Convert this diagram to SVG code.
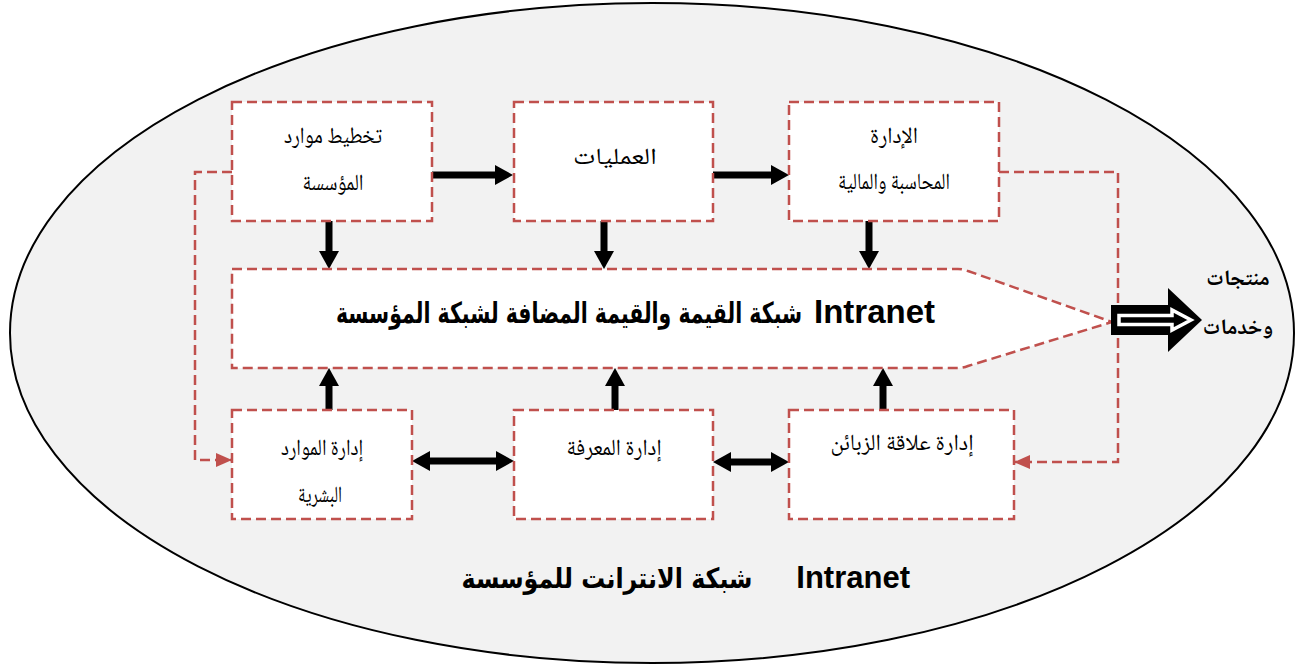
<svg xmlns="http://www.w3.org/2000/svg" width="1297" height="666" viewBox="0 0 1297 666">
  <defs>
    <style>
      .box { fill: #ffffff; stroke: #c0504d; stroke-width: 2.5; stroke-dasharray: 10 5; }
      .link { fill: none; stroke: #c0504d; stroke-width: 2.5; stroke-dasharray: 10 5; }
      .flow { fill: none; stroke: #000000; stroke-width: 7; }
      .lbl { font-family: "Noto Naskh Arabic", "Amiri", "Scheherazade New", "DejaVu Sans", serif; font-size: 23px; fill: #000000; text-anchor: middle; direction: rtl; }
      .title-ar { font-family: "DejaVu Sans", "Noto Sans", sans-serif; font-weight: bold; fill: #000000; direction: rtl; text-anchor: middle; }
      .title-en { font-family: "Liberation Sans", Arial, sans-serif; font-weight: bold; fill: #000000; }
      .out { font-family: "Noto Naskh Arabic", "Amiri", "DejaVu Sans", serif; font-weight: bold; font-size: 22px; fill: #000000; text-anchor: middle; direction: rtl; }
    </style>
    <marker id="head" markerUnits="userSpaceOnUse" markerWidth="18" markerHeight="20" refX="8" refY="10" orient="auto-start-reverse">
      <path d="M0,0 L18,10 L0,20 z" fill="#000000"/>
    </marker>
    <marker id="redhead" markerUnits="userSpaceOnUse" markerWidth="16" markerHeight="14" refX="16" refY="7" orient="auto">
      <path d="M0,0 L16,7 L0,14 z" fill="#c0504d"/>
    </marker>
  </defs>

  <!-- enterprise intranet boundary -->
  <ellipse cx="652" cy="333" rx="642" ry="330" fill="#f2f2f2" stroke="#000000" stroke-width="2"/>

  <!-- connectors -->
  <g id="connectors">
    <!-- feedback loops (dashed) -->
    <polyline class="link" points="232,172 195,172 195,460 232,460" marker-end="url(#redhead)"/>
    <polyline class="link" points="999,172 1118,172 1118,462 1014,462" marker-end="url(#redhead)"/>
    <!-- top row flow -->
    <line class="flow" x1="432" y1="175" x2="503" y2="175" marker-end="url(#head)"/>
    <line class="flow" x1="713" y1="175" x2="779" y2="175" marker-end="url(#head)"/>
    <!-- top boxes into value network -->
    <line class="flow" x1="329" y1="221" x2="329" y2="259" marker-end="url(#head)"/>
    <line class="flow" x1="604" y1="221" x2="604" y2="259" marker-end="url(#head)"/>
    <line class="flow" x1="869" y1="221" x2="869" y2="259" marker-end="url(#head)"/>
    <!-- bottom boxes into value network -->
    <line class="flow" x1="329" y1="410" x2="329" y2="378" marker-end="url(#head)"/>
    <line class="flow" x1="615" y1="410" x2="615" y2="378" marker-end="url(#head)"/>
    <line class="flow" x1="883" y1="410" x2="883" y2="378" marker-end="url(#head)"/>
    <!-- bottom row exchange -->
    <line class="flow" x1="422" y1="461" x2="504" y2="461" marker-start="url(#head)" marker-end="url(#head)"/>
    <line class="flow" x1="723" y1="462" x2="779" y2="462" marker-start="url(#head)" marker-end="url(#head)"/>
  </g>

  <!-- value network -->
  <g id="value-network">
    <path class="box" d="M232,269 L958,269 Q963,269 968,271 L1112,322 L968,366 Q963,368 958,368 L232,368 Z"/>
    <text class="title-en" x="935" y="323" font-size="33" text-anchor="end">Intranet</text>
    <text class="title-ar" transform="translate(569,323) scale(0.705,1)" x="0" y="0" font-size="29">شبكة القيمة والقيمة المضافة لشبكة المؤسسة</text>
  </g>

  <g id="planning">
    <rect class="box" x="232" y="102" width="200" height="119"/>
    <text class="lbl" x="333" y="143" textLength="98" lengthAdjust="spacingAndGlyphs">تخطيط موارد</text>
    <text class="lbl" x="333" y="190" textLength="61" lengthAdjust="spacingAndGlyphs">المؤسسة</text>
  </g>

  <g id="operations">
    <rect class="box" x="514" y="102" width="199" height="119"/>
    <text class="lbl" x="615" y="164" textLength="84" lengthAdjust="spacingAndGlyphs">العمليات</text>
  </g>

  <g id="finance">
    <rect class="box" x="789" y="102" width="210" height="119"/>
    <text class="lbl" x="894" y="143" textLength="48" lengthAdjust="spacingAndGlyphs">الإدارة</text>
    <text class="lbl" x="894" y="189" textLength="112" lengthAdjust="spacingAndGlyphs">المحاسبة والمالية</text>
  </g>

  <g id="hr">
    <rect class="box" x="232" y="410" width="180" height="109"/>
    <text class="lbl" x="322" y="455" textLength="82" lengthAdjust="spacingAndGlyphs">إدارة الموارد</text>
    <text class="lbl" x="320" y="502" textLength="44" lengthAdjust="spacingAndGlyphs">البشرية</text>
  </g>

  <g id="knowledge">
    <rect class="box" x="514" y="410" width="199" height="109"/>
    <text class="lbl" x="614" y="455" textLength="95" lengthAdjust="spacingAndGlyphs">إدارة المعرفة</text>
  </g>

  <g id="crm">
    <rect class="box" x="789" y="410" width="225" height="109"/>
    <text class="lbl" x="902" y="450" textLength="143" lengthAdjust="spacingAndGlyphs">إدارة علاقة الزبائن</text>
  </g>

  <!-- output arrow -->
  <g id="output">
    <polygon points="1111,305 1168,305 1168,288 1202,320 1168,352 1168,335 1111,335" fill="#000000"/>
    <polygon points="1119,315.5 1172,315.5 1172,310 1191,320 1172,330 1172,324.5 1119,324.5" fill="#000000" stroke="#ffffff" stroke-width="3.5"/>
    <text class="out" x="1238" y="285">منتجات</text>
    <text class="out" x="1238" y="334">وخدمات</text>
  </g>

  <!-- caption -->
  <g id="caption">
    <text class="title-en" x="910" y="588" font-size="31" text-anchor="end">Intranet</text>
    <text class="title-ar" transform="translate(607,588) scale(0.85,1)" x="0" y="0" font-size="28">شبكة الانترانت للمؤسسة</text>
  </g>
</svg>
